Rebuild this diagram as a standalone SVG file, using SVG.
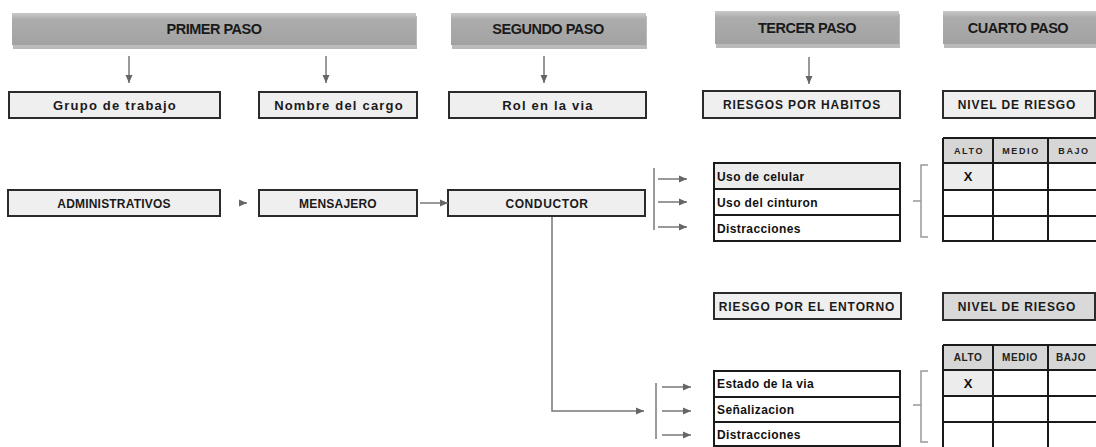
<svg xmlns="http://www.w3.org/2000/svg" width="1096" height="447" viewBox="0 0 1096 447">
<style>
.hd{font-family:"Liberation Sans",Arial,sans-serif;font-weight:bold;font-size:14.5px;fill:#1a1a1a;text-anchor:middle;letter-spacing:-0.5px}
.bx{fill:#efefef;stroke:#2b2b2b;stroke-width:2}
.bxd{fill:#d9d9d9;stroke:#2b2b2b;stroke-width:2}
.sh{fill:#bdbdbd}
.lb{font-family:"Liberation Sans",Arial,sans-serif;font-weight:bold;font-size:13px;fill:#1a1a1a;text-anchor:middle;letter-spacing:1.2px}
.lu{font-family:"Liberation Sans",Arial,sans-serif;font-weight:bold;font-size:12px;fill:#1a1a1a;text-anchor:middle;letter-spacing:0.9px}
.l3{font-family:"Liberation Sans",Arial,sans-serif;font-weight:bold;font-size:12px;fill:#1a1a1a;text-anchor:middle;letter-spacing:0.2px}
.tt{font-family:"Liberation Sans",Arial,sans-serif;font-weight:bold;font-size:12px;fill:#111;letter-spacing:0.4px}
.th{font-family:"Liberation Sans",Arial,sans-serif;font-weight:bold;font-size:9px;fill:#222;text-anchor:middle;letter-spacing:1.6px}
.x{font-family:"Liberation Sans",Arial,sans-serif;font-weight:bold;font-size:13px;fill:#111;text-anchor:middle}
.cn{stroke:#777;stroke-width:1.5;fill:none}
.bar{stroke:#9a9a9a;stroke-width:2;fill:none}
.grid{stroke:#1a1a1a;stroke-width:2;fill:none}
.cell{fill:#ffffff}
.cellg{fill:#ececec}
.hdr{fill:#d6d6d6}
</style>
<defs>
<linearGradient id="hg" x1="0" y1="0" x2="0" y2="1">
<stop offset="0" stop-color="#c9c9c9"/>
<stop offset="0.2" stop-color="#acacac"/>
<stop offset="1" stop-color="#a2a2a2"/>
</linearGradient>
<marker id="ah" viewBox="0 0 8 8" refX="8" refY="4" markerWidth="8" markerHeight="8" markerUnits="userSpaceOnUse" orient="auto">
<path d="M0,0.5 L8,4 L0,7.5 Z" fill="#666"/>
</marker>
</defs>
<rect width="1096" height="447" fill="#ffffff"/>

<!-- header bars -->
<g id="primer-paso">
<rect x="13" y="16" width="404" height="33" fill="#8c8c8c" opacity="0.6"/>
<rect x="12" y="13" width="404" height="32" fill="url(#hg)"/>
<text class="hd" x="214" y="34">PRIMER PASO</text>
</g>
<g id="segundo-paso">
<rect x="452" y="16" width="195" height="33" fill="#8c8c8c" opacity="0.6"/>
<rect x="451" y="13" width="195" height="32" fill="url(#hg)"/>
<text class="hd" x="548" y="34">SEGUNDO PASO</text>
</g>
<g id="tercer-paso">
<rect x="716" y="14" width="184" height="34" fill="#8c8c8c" opacity="0.6"/>
<rect x="715" y="11" width="184" height="33" fill="url(#hg)"/>
<text class="hd" x="807" y="33">TERCER PASO</text>
</g>
<g id="cuarto-paso">
<rect x="944" y="14" width="152" height="34" fill="#8c8c8c" opacity="0.6"/>
<rect x="943" y="11" width="153" height="33" fill="url(#hg)"/>
<text class="hd" x="1018" y="33">CUARTO PASO</text>
</g>

<!-- row 2 -->
<g id="grupo-de-trabajo">
<rect class="bx" x="9" y="92" width="211" height="26"/>
<text class="lb" x="115" y="110">Grupo de trabajo</text>
</g>
<g id="nombre-del-cargo">
<rect class="bx" x="259" y="92" width="158" height="26"/>
<text class="lb" x="339" y="110">Nombre del cargo</text>
</g>
<g id="rol-en-la-via">
<rect class="bx" x="449" y="92" width="197" height="26"/>
<text class="lb" x="548" y="110">Rol en la via</text>
</g>
<g id="riesgos-por-habitos">
<rect class="bx" x="703" y="91" width="197" height="27"/>
<text class="lu" x="802" y="109">RIESGOS POR HABITOS</text>
</g>
<g id="nivel-de-riesgo-1">
<rect class="bx" x="943" y="91" width="152" height="27"/>
<text class="lu" x="1017" y="109">NIVEL DE RIESGO</text>
</g>

<!-- row 3 -->
<g id="administrativos">
<rect class="bx" x="8" y="190" width="212" height="26"/>
<text class="l3" x="114" y="207.5">ADMINISTRATIVOS</text>
</g>
<g id="mensajero">
<rect class="bx" x="259" y="190" width="158" height="26"/>
<text class="l3" x="338" y="207.5">MENSAJERO</text>
</g>
<g id="conductor">
<rect class="bx" x="448" y="190" width="197" height="26"/>
<text class="l3" x="547" y="207.5" style="letter-spacing:0.6px">CONDUCTOR</text>
</g>

<!-- section 1 table: habits -->
<g id="tabla-habitos">
<rect class="cellg" x="714" y="163" width="186" height="26"/>
<rect class="cell" x="714" y="189" width="186" height="52"/>
<path class="grid" d="M714,163 H900 V241 H714 Z M714,189 H900 M714,215 H900"/>
<text class="tt" x="717" y="181">Uso de celular</text>
<text class="tt" x="717" y="207">Uso del cinturon</text>
<text class="tt" x="717" y="233">Distracciones</text>
</g>
<g id="nivel-tabla-1">
<rect class="hdr" x="943" y="138" width="157" height="25"/>
<rect class="cellg" x="943" y="163" width="50" height="27"/>
<path class="grid" d="M943,138 H1100 M943,138 V241 H1100 M943,163 H1100 M943,190 H1100 M943,216 H1100 M993,138 V241 M1048,138 V241"/>
<text class="th" x="969" y="154">ALTO</text>
<text class="th" x="1021" y="154">MEDIO</text>
<text class="th" x="1074" y="154">BAJO</text>
<text class="x" x="968" y="181">X</text>
</g>
<g id="llave-1">
<path d="M928,165 H921 V201 H913 M921,201 V237 H928" stroke="#999" stroke-width="1.5" fill="none"/>
</g>

<!-- section 2 -->
<g id="riesgo-por-el-entorno">
<rect class="bx" x="714" y="293" width="187" height="26"/>
<text class="lu" x="807" y="311">RIESGO POR EL ENTORNO</text>
</g>
<g id="nivel-de-riesgo-2">
<rect class="bxd" x="943" y="293" width="152" height="27"/>
<text class="lu" x="1017" y="311">NIVEL DE RIESGO</text>
</g>
<g id="tabla-entorno">
<rect class="cell" x="714" y="371" width="186" height="76"/>
<path class="grid" d="M714,447 V371 H900 V447 M714,397 H900 M714,422 H900 M714,446 H900"/>
<text class="tt" x="717" y="388">Estado de la via</text>
<text class="tt" x="717" y="414">Señalizacion</text>
<text class="tt" x="717" y="439">Distracciones</text>
</g>
<g id="nivel-tabla-2">
<rect class="hdr" x="943" y="345" width="157" height="25"/>
<rect class="cellg" x="943" y="370" width="50" height="26"/>
<path class="grid" d="M943,345 H1100 M943,345 V447 M943,370 H1100 M943,396 H1100 M943,422 H1100 M993,345 V447 M1048,345 V447"/>
<text class="th" x="968" y="361" style="font-size:10px;letter-spacing:0.6px">ALTO</text>
<text class="th" x="1020" y="361" style="font-size:10px;letter-spacing:0.6px">MEDIO</text>
<text class="th" x="1071" y="361" style="font-size:10px;letter-spacing:0.6px">BAJO</text>
<text class="x" x="968" y="388">X</text>
</g>
<g id="llave-2">
<path d="M928,371 H921 V405 H913 M921,405 V442 H928" stroke="#999" stroke-width="1.5" fill="none"/>
</g>

<!-- connectors -->
<g id="connectors">
<line class="cn" x1="129" y1="56" x2="129" y2="83" marker-end="url(#ah)"/>
<line class="cn" x1="326" y1="56" x2="326" y2="83" marker-end="url(#ah)"/>
<line class="cn" x1="544" y1="56" x2="544" y2="83" marker-end="url(#ah)"/>
<line class="cn" x1="809" y1="57" x2="809" y2="84" marker-end="url(#ah)"/>
<line class="cn" x1="240" y1="203" x2="247" y2="203" marker-end="url(#ah)"/>
<line class="cn" x1="420" y1="203" x2="448" y2="203" marker-end="url(#ah)"/>
<line class="bar" x1="654" y1="168" x2="654" y2="230"/>
<line class="cn" x1="658" y1="179" x2="687" y2="179" marker-end="url(#ah)"/>
<line class="cn" x1="658" y1="202" x2="687" y2="202" marker-end="url(#ah)"/>
<line class="cn" x1="658" y1="227" x2="687" y2="227" marker-end="url(#ah)"/>
<path class="cn" d="M552,217 V411 H644" marker-end="url(#ah)"/>
<line class="bar" x1="656" y1="383" x2="656" y2="439"/>
<line class="cn" x1="662" y1="387" x2="691" y2="387" marker-end="url(#ah)"/>
<line class="cn" x1="662" y1="411" x2="691" y2="411" marker-end="url(#ah)"/>
<line class="cn" x1="662" y1="435" x2="691" y2="435" marker-end="url(#ah)"/>
</g>
</svg>
